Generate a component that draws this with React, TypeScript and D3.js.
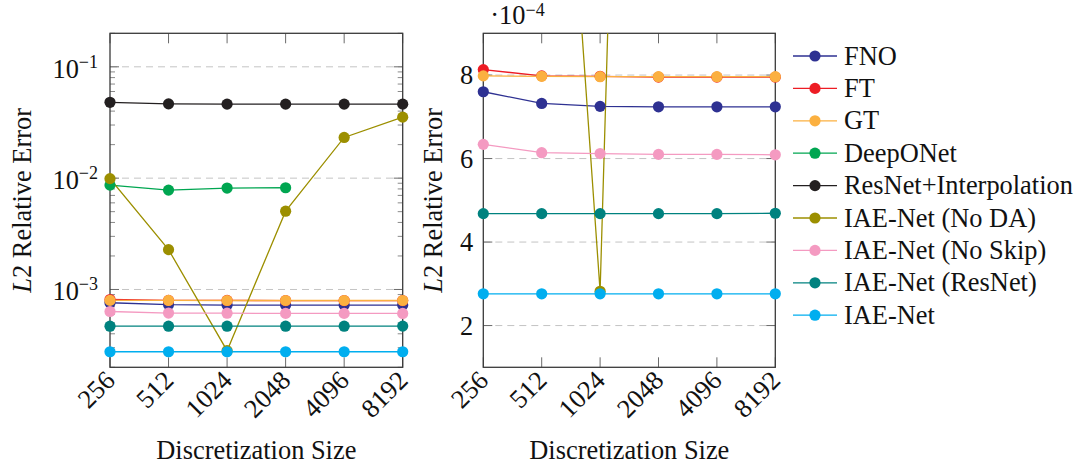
import React from "react";
import * as d3 from "d3";

const sizes = ["256", "512", "1024", "2048", "4096", "8192"];
const seriesNames = [
  "FNO",
  "FT",
  "GT",
  "DeepONet",
  "ResNet+Interpolation",
  "IAE-Net (No DA)",
  "IAE-Net (No Skip)",
  "IAE-Net (ResNet)",
  "IAE-Net",
];
const seriesColors = [
  "#2e3192",
  "#ed1c24",
  "#fbb040",
  "#00a651",
  "#231f20",
  "#9c8f00",
  "#f49ac1",
  "#00827f",
  "#00aeef",
];
const fno = [7.6e-4, 7.32e-4, 7.25e-4, 7.24e-4, 7.24e-4, 7.24e-4];
const ft = [8.13e-4, 7.98e-4, 7.97e-4, 7.95e-4, 7.95e-4, 7.95e-4];
const gt = [7.98e-4, 7.97e-4, 7.96e-4, 7.96e-4, 7.96e-4, 7.96e-4];
const deeponet = [8.66e-3, 7.81e-3, 8.15e-3, 8.2e-3, null, null];
const resnetInterp = [4.8e-2, 4.65e-2, 4.62e-2, 4.62e-2, 4.62e-2, 4.62e-2];
const noDA = [9.9e-3, 2.28e-3, 2.82e-4, 5.05e-3, 2.32e-2, 3.53e-2];
const noSkip = [6.34e-4, 6.14e-4, 6.12e-4, 6.1e-4, 6.1e-4, 6.09e-4];
const iaeResNet = [4.68e-4, 4.68e-4, 4.68e-4, 4.68e-4, 4.68e-4, 4.69e-4];
const iae = [2.76e-4, 2.76e-4, 2.76e-4, 2.76e-4, 2.76e-4, 2.76e-4];
const allSeries: (number | null)[][] = [fno, ft, gt, deeponet, resnetInterp, noDA, noSkip, iaeResNet, iae];

const logTicks = [1e-3, 1e-2, 1e-1];
const logTickExp = ["−3", "−2", "−1"];
const linTicks = [2, 4, 6, 8];
const linScaleLabel = "−4";

const FONT = "Liberation Serif";
const FS = 26.4;
const TOP = 33.3;
const BOTTOM = 367.3;

type PanelProps = { x0: number; x1: number; log: boolean; id: string };

function Panel({ x0, x1, log, id }: PanelProps) {
  const x = d3.scalePoint<string>().domain(sizes).range([x0, x1]).padding(0);
  const yLog = d3.scaleLog().domain([2e-4, 0.2]).range([BOTTOM, TOP]);
  const yLin = d3.scaleLinear().domain([1, 9]).range([BOTTOM, TOP]);
  const y = (v: number) => (log ? yLog(v) : yLin(v * 1e4));
  const inRange = (v: number) => (log ? v >= 2e-4 && v <= 0.2 : v * 1e4 >= 1 && v * 1e4 <= 9);

  const majorLen = 9;
  const minorLen = 5;
  const gridVals = log ? logTicks : linTicks;
  const gridY = gridVals.map((v) => (log ? yLog(v) : yLin(v)));

  const minor: number[] = [];
  if (log) {
    for (let e = -4; e <= -1; e++) {
      for (let m = 2; m <= 9; m++) {
        const v = m * Math.pow(10, e);
        if (v >= 2e-4 && v <= 0.2) minor.push(yLog(v));
      }
    }
  }

  const line = d3
    .line<[string, number | null]>()
    .defined((d) => d[1] != null)
    .x((d) => x(d[0]) as number)
    .y((d) => y(d[1] as number));

  const cx = (x0 + x1) / 2;
  const cy = (TOP + BOTTOM) / 2;

  return (
    <g>
      <defs>
        <clipPath id={id}>
          <rect x={x0} y={TOP} width={x1 - x0} height={BOTTOM - TOP} />
        </clipPath>
      </defs>
      {gridY.map((gy, i) => (
        <line key={"g" + i} x1={x0} x2={x1} y1={gy} y2={gy} stroke="#c4c4c4" strokeWidth={1} strokeDasharray="7 5" />
      ))}
      {minor.map((my, i) => (
        <g key={"m" + i} stroke="#8a8a8a" strokeWidth={1}>
          <line x1={x0} x2={x0 + minorLen} y1={my} y2={my} />
          <line x1={x1} x2={x1 - minorLen} y1={my} y2={my} />
        </g>
      ))}
      {gridY.map((gy, i) => (
        <g key={"t" + i} stroke="#6a6a6a" strokeWidth={1}>
          <line x1={x0} x2={x0 + majorLen} y1={gy} y2={gy} />
          <line x1={x1} x2={x1 - majorLen} y1={gy} y2={gy} />
        </g>
      ))}
      {sizes.map((s) => (
        <g key={"xt" + s} stroke="#6a6a6a" strokeWidth={1}>
          <line x1={x(s)} x2={x(s)} y1={TOP} y2={TOP + 10} />
          <line x1={x(s)} x2={x(s)} y1={BOTTOM} y2={BOTTOM - 10} />
        </g>
      ))}
      <rect x={x0} y={TOP} width={x1 - x0} height={BOTTOM - TOP} fill="none" stroke="#3a3a3a" strokeWidth={1.3} />
      <g clipPath={`url(#${id})`}>
        {allSeries.map((vals, si) => (
          <path
            key={"l" + si}
            d={line(sizes.map((s, i) => [s, vals[i]] as [string, number | null])) || ""}
            fill="none"
            stroke={seriesColors[si]}
            strokeWidth={1.3}
          />
        ))}
      </g>
      {allSeries.map((vals, si) =>
        vals.map((v, i) =>
          v != null && inRange(v) ? (
            <circle key={"c" + si + "_" + i} cx={x(sizes[i])} cy={y(v)} r={5.6} fill={seriesColors[si]} />
          ) : null
        )
      )}
      {log
        ? logTicks.map((v, i) => (
            <text key={"yl" + i} x={x0 - 12} y={yLog(v) + 11} textAnchor="end" fontFamily={FONT} fontSize={FS} fill="#111">
              10
              <tspan fontSize={18} dy={-10}>
                {logTickExp[i]}
              </tspan>
            </text>
          ))
        : linTicks.map((v, i) => (
            <text key={"yl" + i} x={x0 - 10} y={yLin(v) + 9} textAnchor="end" fontFamily={FONT} fontSize={FS} fill="#111">
              {v}
            </text>
          ))}
      {!log && (
        <text x={x0 + 7} y={24} fontFamily={FONT} fontSize={FS} fill="#111">
          ·10
          <tspan fontSize={18} dy={-8}>
            {linScaleLabel}
          </tspan>
        </text>
      )}
      {sizes.map((s) => (
        <text
          key={"xl" + s}
          transform={`translate(${x(s)!},${BOTTOM + 8}) rotate(-45)`}
          textAnchor="end"
          dy="0.35em"
          fontFamily={FONT}
          fontSize={FS}
          fill="#111"
        >
          {s}
        </text>
      ))}
      <text x={cx} y={459} textAnchor="middle" fontFamily={FONT} fontSize={FS} fill="#111">
        Discretization Size
      </text>
      <text
        transform={`translate(${log ? 31 : 442},${cy}) rotate(-90)`}
        textAnchor="middle"
        fontFamily={FONT}
        fontSize={FS}
        fill="#111"
      >
        <tspan fontStyle="italic">L</tspan>2 Relative Error
      </text>
    </g>
  );
}

function Legend() {
  const x0 = 793;
  const x1 = 837;
  const y0 = 56;
  const dy = 32.4;
  return (
    <g>
      {seriesNames.map((n, i) => {
        const yy = y0 + i * dy;
        return (
          <g key={n}>
            <line x1={x0} x2={x1} y1={yy} y2={yy} stroke={seriesColors[i]} strokeWidth={1.3} />
            <circle cx={(x0 + x1) / 2} cy={yy} r={5.6} fill={seriesColors[i]} />
            <text x={844} y={yy + 8.5} fontFamily={FONT} fontSize={FS} fill="#111">
              {n}
            </text>
          </g>
        );
      })}
    </g>
  );
}

export default function App() {
  return (
    <svg
      width={1081}
      height={467}
      viewBox="0 0 1081 467"
      style={{ position: "absolute", left: 0, top: 0, background: "#fff" }}
    >
      <rect x={0} y={0} width={1081} height={467} fill="#fff" />
      <Panel x0={110} x1={402.7} log={true} id="clipL" />
      <Panel x0={483.3} x1={775.3} log={false} id="clipR" />
      <Legend />
    </svg>
  );
}
